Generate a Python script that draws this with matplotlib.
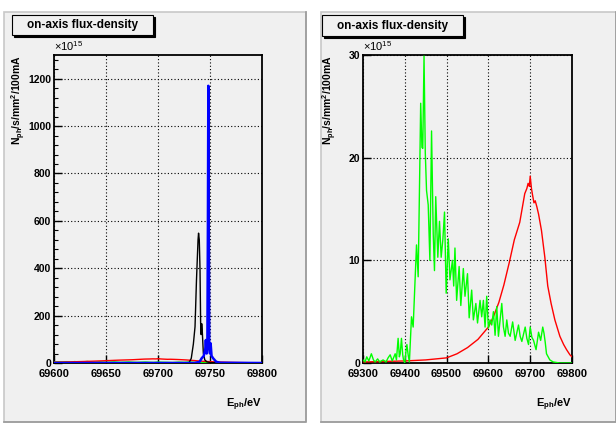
import matplotlib
matplotlib.use("Agg")
import matplotlib.pyplot as plt
import numpy as np
from matplotlib.patches import Rectangle
from matplotlib.ticker import MultipleLocator

plt.rcParams['font.family'] = ['Liberation Sans', 'DejaVu Sans']
plt.rcParams['mathtext.default'] = 'regular'

#####################################################################
# data (flux in units of 1e15 ph/s/mm^2/100mA)

red_e = [69300, 69350, 69400, 69450, 69500, 69525, 69550, 69575, 69600, 69612,
         69625, 69637, 69650, 69662, 69675, 69687, 69692, 69695, 69698, 69700,
         69703, 69705, 69709, 69712, 69716, 69720, 69727, 69735, 69742, 69750,
         69759, 69771, 69780, 69787, 69795, 69800]
red_f = [0.1, 0.15, 0.2, 0.3, 0.5, 0.9, 1.5, 2.3, 3.5, 4.5,
         5.9, 7.6, 9.8, 12.0, 13.7, 16.5, 17.0, 17.5, 17.2, 18.2,
         17.0, 16.5, 15.6, 15.8, 15.2, 14.5, 12.9, 10.3, 7.5, 5.8,
         4.2, 2.6, 1.8, 1.3, 0.8, 0.6]

green_e = [69300, 69305, 69309, 69314, 69320, 69325, 69329, 69335, 69340, 69348,
           69355, 69360, 69365, 69370, 69377, 69380, 69384, 69387, 69389, 69392,
           69395, 69397, 69400, 69403, 69405, 69408, 69411, 69416, 69420, 69424,
           69428, 69432, 69436, 69438, 69441, 69443, 69446, 69449, 69452, 69456,
           69460, 69464, 69468, 69471, 69474, 69479, 69483, 69487, 69491, 69495,
           69499, 69504, 69508, 69514, 69517, 69520, 69524, 69530, 69534, 69540,
           69544, 69550, 69554, 69560, 69564, 69570, 69574, 69580, 69584, 69588,
           69592, 69596, 69600, 69604, 69608, 69612, 69616, 69620, 69624, 69632,
           69636, 69640, 69644, 69648, 69652, 69658, 69664, 69672, 69676, 69680,
           69688, 69692, 69696, 69700, 69704, 69708, 69714, 69720, 69725, 69730,
           69733, 69736, 69739, 69743, 69747, 69755, 69763, 69770, 69800]
green_f = [0.3, 0.1, 0.6, 0.2, 0.9, 0.3, 0.1, 0.4, 0.1, 0.3,
           0.1, 0.5, 0.8, 0.2, 0.9, 0.3, 2.4, 0.6, 0.9, 2.4,
           0.8, 0.3, 0.0, 1.2, 1.8, 0.8, 0.1, 4.5, 3.5, 7.5,
           11.5, 8.4, 19.5, 25.3, 21.0, 20.9, 29.9, 20.5, 16.8, 15.4,
           10.0, 22.6, 12.6, 9.0, 16.2, 10.3, 13.8, 10.3, 12.0, 14.7,
           6.8, 12.1, 8.1, 10.0, 7.5, 11.2, 6.1, 9.4, 5.6, 9.2,
           6.5, 8.7, 4.4, 7.1, 4.2, 5.8, 3.9, 6.1, 4.5, 6.1,
           3.5, 6.5, 3.4, 4.2, 3.7, 5.0, 2.7, 5.5, 2.6, 5.8,
           3.5, 2.6, 4.2, 2.9, 2.6, 4.0, 2.2, 3.7, 2.6, 2.1,
           3.5, 2.4, 1.8, 3.5, 2.5, 2.2, 1.3, 3.0, 2.2, 3.5,
           2.9, 2.0, 0.9, 0.6, 0.3, 0.1, 0.05, 0.0, 0.0]

black_e = [69600, 69725, 69730, 69732, 69734, 69735.6, 69737, 69738.5, 69739,
           69739.7, 69740.4, 69741, 69741.5, 69742, 69742.5, 69743.6, 69745,
           69747, 69750, 69760, 69800]
black_f = [0, 0, 2, 20, 80, 153, 350, 520, 548,
           520, 393, 168, 120, 166, 140, 41, 13,
           5, 2, 0, 0]

blue_e = [69600, 69735, 69740, 69742, 69744, 69745.5, 69746, 69746.8, 69747.5,
          69748, 69748.4, 69748.8, 69749.3, 69750, 69750.6, 69751.5, 69753,
          69756, 69760, 69800]
blue_f = [0, 0, 5, 20, 30, 60, 97, 40, 100,
          600, 1170, 600, 60, 40, 83, 30, 20,
          5, 1, 0]

left_xticks = [69600, 69650, 69700, 69750, 69800]
right_xticks = [69300, 69400, 69500, 69600, 69700, 69800]

#####################################################################

W, H = 616, 424
fig = plt.figure(figsize=(W / 100, H / 100), dpi=100)
fig.patch.set_facecolor('white')

pad_bg = '#f0f0f0'


def fx(px):
    return px / W


def fy(py):
    return 1 - py / H


def draw_pad(x0, x1, y0, y1):
    fig.patches.append(Rectangle((fx(x0), fy(y1)), fx(x1 - x0), (y1 - y0) / H,
                                 transform=fig.transFigure, facecolor=pad_bg,
                                 edgecolor='#c8c8c8', linewidth=1.2, zorder=-5))
    # darker bevel on the right and bottom edges
    fig.lines.append(plt.Line2D([fx(x0), fx(x1), fx(x1)], [fy(y1), fy(y1), fy(y0)],
                                transform=fig.transFigure, color='#9a9a9a',
                                linewidth=1.2, zorder=-4))


def title_box(x0, x1, y0, y1, text):
    fig.patches.append(Rectangle((fx(x0 + 2), fy(y1 + 2)), fx(x1 - x0), (y1 - y0) / H,
                                 transform=fig.transFigure, facecolor='black',
                                 edgecolor='black', linewidth=0.8, zorder=5))
    fig.patches.append(Rectangle((fx(x0), fy(y1)), fx(x1 - x0), (y1 - y0) / H,
                                 transform=fig.transFigure, facecolor=pad_bg,
                                 edgecolor='black', linewidth=0.8, zorder=6))
    fig.text(fx((x0 + x1) / 2), fy((y0 + y1) / 2), text, ha='center', va='center',
             fontsize=8.5, fontweight='bold', zorder=7)


def style_axes(ax, ylabel_px):
    ax.set_facecolor(pad_bg)
    for s in ax.spines.values():
        s.set_linewidth(1.3)
    ax.grid(True, color='black', linestyle=(0, (1, 2)), linewidth=0.8)
    ax.set_axisbelow(False)
    ax.tick_params(direction='in', length=6, width=1, labelsize=8, pad=4)
    ax.tick_params(which='minor', direction='in', length=3, width=0.8)
    ax.tick_params(axis='y', pad=2, labelsize=7.5)
    for lab in ax.get_xticklabels() + ax.get_yticklabels():
        lab.set_fontweight('bold')
    ax.text(0.0, 1.008, r'$\times$10$^{15}$', transform=ax.transAxes,
            ha='left', va='bottom', fontsize=8)
    fig.text(fx(ylabel_px), fy(55), 'N$_{ph}$/s/mm$^{2}$/100mA', rotation=90,
             ha='center', va='top', fontsize=7.5, fontweight='bold')


draw_pad(4, 306, 12, 422)
draw_pad(321, 616, 12, 422)

# left panel
ax1 = fig.add_axes([fx(54), fy(363), fx(262 - 54), (363 - 55) / H])
ax1.plot(green_e, green_f, color='#00ff00', linewidth=1.2, zorder=3)
ax1.plot(red_e, red_f, color='red', linewidth=1.0, zorder=3)
ax1.plot(black_e, black_f, color='black', linewidth=1.0, zorder=4)
ax1.plot(blue_e, blue_f, color='blue', linewidth=1.8, zorder=5)
ax1.set_xlim(69600, 69800)
ax1.set_ylim(0, 1300)
ax1.set_xticks(left_xticks)
ax1.yaxis.set_major_locator(MultipleLocator(200))
ax1.yaxis.set_minor_locator(MultipleLocator(40))
style_axes(ax1, 19)
fig.text(fx(262), fy(405), 'E$_{ph}$/eV', ha='right', va='center',
         fontsize=8, fontweight='bold')
title_box(12, 153, 15, 35, 'on-axis flux-density')

# right panel
ax2 = fig.add_axes([fx(363), fy(363), fx(572 - 363), (363 - 55) / H])
ax2.plot(red_e, red_f, color='red', linewidth=1.0, zorder=3)
ax2.plot(green_e, green_f, color='#00ff00', linewidth=1.0, zorder=4)
ax2.set_xlim(69300, 69800)
ax2.set_ylim(0, 30)
ax2.set_xticks(right_xticks)
ax2.set_yticks([0, 10, 20, 30])
style_axes(ax2, 330)
fig.text(fx(572), fy(405), 'E$_{ph}$/eV', ha='right', va='center',
         fontsize=8, fontweight='bold')
title_box(322, 463, 15, 36, 'on-axis flux-density')

fig.savefig('out.png', dpi=100, facecolor='white')
